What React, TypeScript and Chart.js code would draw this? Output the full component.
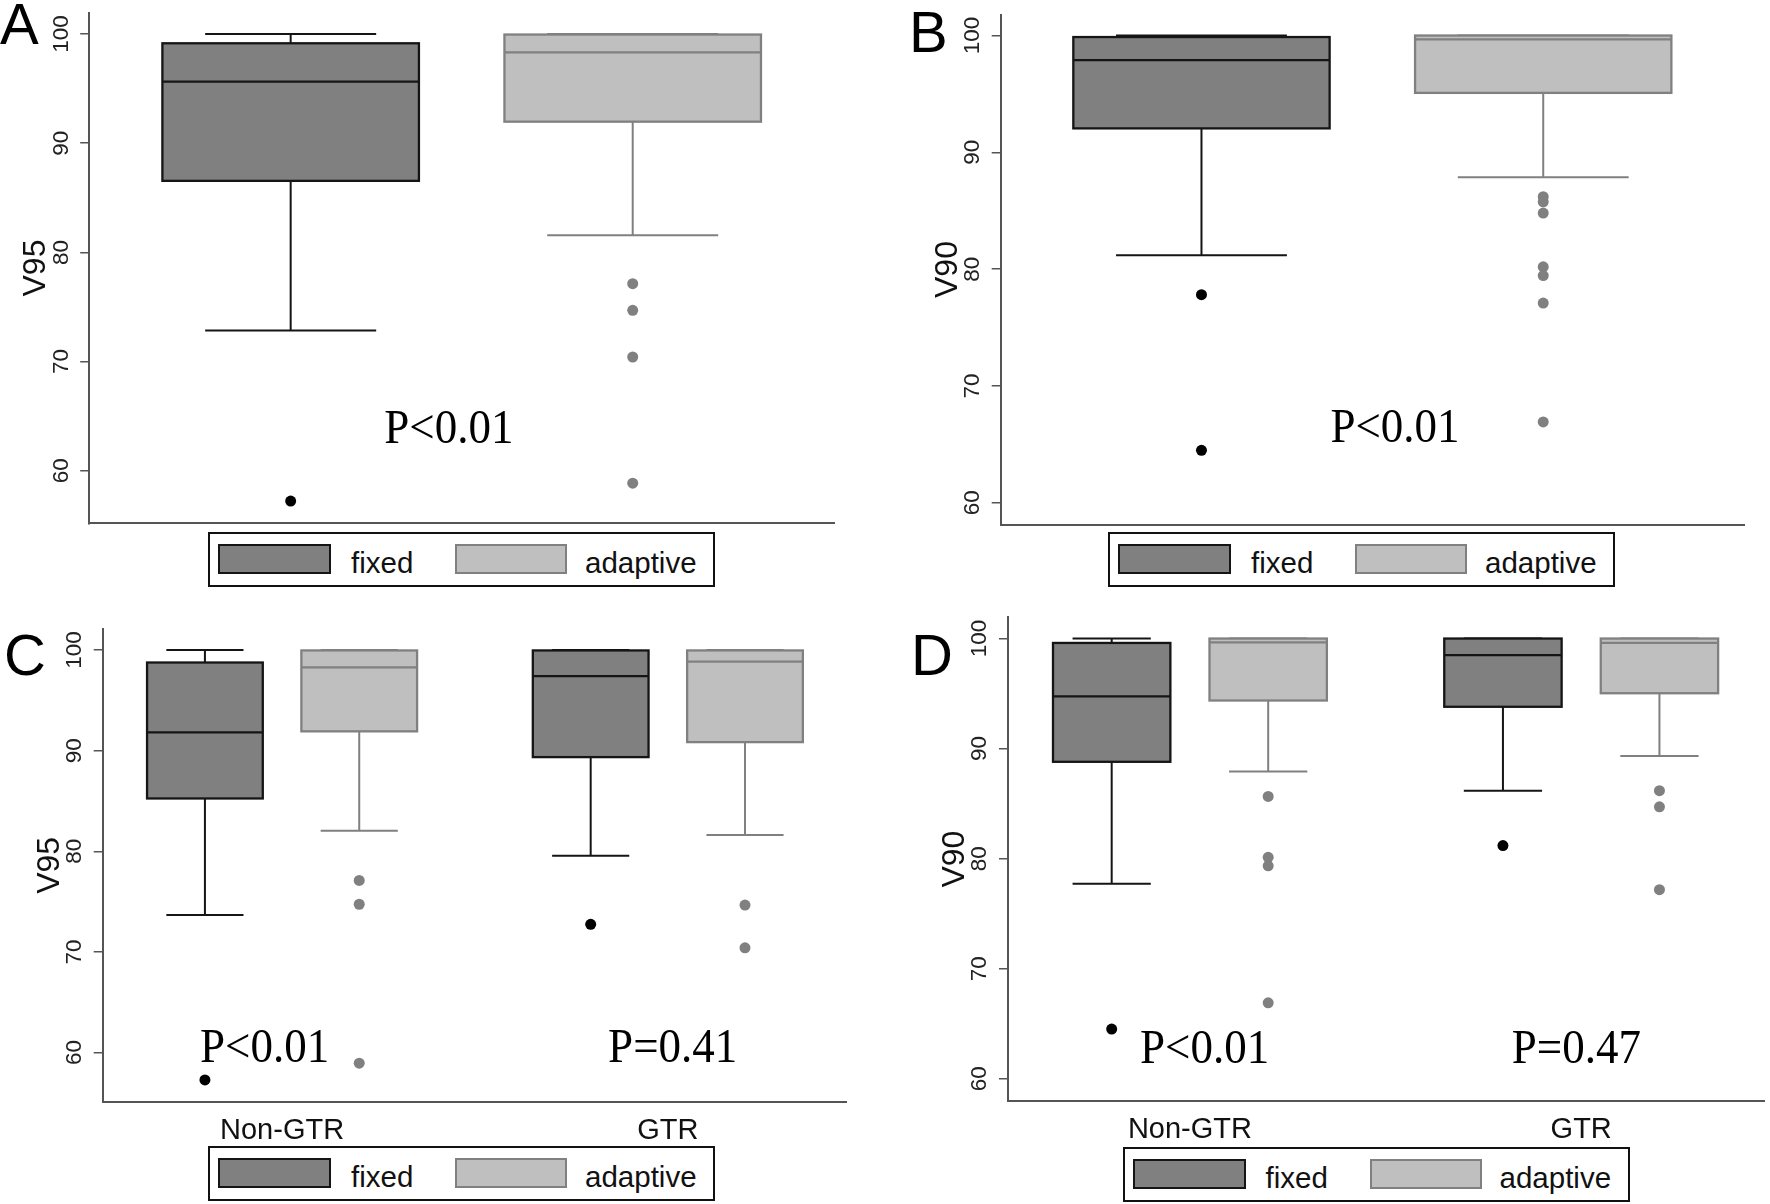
import React, { useEffect, useRef } from 'react';
import { Chart, registerables } from 'chart.js';

Chart.register(...registerables);

// ---------------- data ----------------
const GROUPS_ALL = ['All'];
const GROUPS_RESECTION = ['Non-GTR', 'GTR'];
const SERIES_NAMES = ['fixed', 'adaptive'];
const Y_TICKS = [60, 70, 80, 90, 100];

// box statistics per group: [lower whisker, Q1, median, Q3, upper whisker]
const A_FIXED = [[72.84, 86.55, 95.63, 99.15, 100]];
const A_ADAPTIVE = [[81.57, 91.97, 98.32, 99.95, 100]];
const A_FIXED_OUT = [[57.23]];
const A_ADAPTIVE_OUT = [[77.13, 74.69, 70.42, 58.86]];

const B_FIXED = [[81.18, 92.05, 97.9, 99.87, 100]];
const B_ADAPTIVE = [[87.86, 95.09, 99.67, 100, 100]];
const B_FIXED_OUT = [[77.81, 64.49]];
const B_ADAPTIVE_OUT = [[86.2, 85.76, 84.8, 80.2, 79.45, 77.1, 66.92]];

const C_FIXED = [[73.66, 85.25, 91.82, 98.76, 100], [79.56, 89.36, 97.4, 99.96, 100]];
const C_ADAPTIVE = [[82.05, 91.92, 98.28, 99.96, 100], [81.63, 90.85, 98.85, 99.96, 100]];
const C_FIXED_OUT = [[57.28], [72.75]];
const C_ADAPTIVE_OUT = [[77.11, 74.74, 58.95], [74.66, 70.41]];

const D_FIXED = [[77.71, 88.8, 94.75, 99.6, 100], [86.18, 93.8, 98.5, 100, 100]];
const D_ADAPTIVE = [[87.93, 94.37, 99.65, 100, 100], [89.33, 95.03, 99.6, 100, 100]];
const D_FIXED_OUT = [[64.52], [81.19]];
const D_ADAPTIVE_OUT = [[85.65, 80.12, 79.35, 66.9], [86.18, 84.71, 77.18]];

const P_A = ['P<0.01'];
const P_B = ['P<0.01'];
const P_C = ['P<0.01', 'P=0.41'];
const P_D = ['P<0.01', 'P=0.47'];

// ---------------- styling / layout ----------------
const SANS = '"Liberation Sans", Arial, sans-serif';
const SERIF = '"Liberation Serif", "Times New Roman", serif';
const AXIS_COLOR = '#555555';
const FIXED_FILL = '#808080';
const FIXED_LINE = '#151515';
const ADAPT_FILL = '#bfbfbf';
const ADAPT_LINE = '#808080';
const SERIES_OFFSET = 0.2; // box offset from group centre (x units)
const BOX_W = 0.3;
const CAP_W = 0.2;
const Y_AXIS_W = 89;

type Panel = {
  letter: string;
  title: string;
  groups: string[];
  fixed: number[][];
  adaptive: number[][];
  fixedOut: number[][];
  adaptiveOut: number[][];
  pTexts: string[];
  pPos: [number, number][];
  xRange: [number, number];
  yRange: [number, number];
  showX: boolean;
  canvas: { left: number; top: number; width: number; height: number };
  area: { left: number; top: number; right: number; bottom: number };
  legend: { left: number; top: number };
  letterPos: { left: number; capTop: number };
};

const PANELS: Panel[] = [
  {
    letter: 'A', title: 'V95', groups: GROUPS_ALL,
    fixed: A_FIXED, adaptive: A_ADAPTIVE, fixedOut: A_FIXED_OUT, adaptiveOut: A_ADAPTIVE_OUT,
    pTexts: P_A, pPos: [[-0.015, 62.52]],
    xRange: [-0.4356, 0.4354], yRange: [55.19, 101.95], showX: false,
    canvas: { left: 0, top: 0, width: 880, height: 530 },
    area: { left: 89.2, top: 12.7, right: 834, bottom: 523.3 },
    legend: { left: 208, top: 532 },
    letterPos: { left: 0, capTop: 3 },
  },
  {
    letter: 'B', title: 'V90', groups: GROUPS_ALL,
    fixed: B_FIXED, adaptive: B_ADAPTIVE, fixedOut: B_FIXED_OUT, adaptiveOut: B_ADAPTIVE_OUT,
    pTexts: P_B, pPos: [[0.0265, 65.21]],
    xRange: [-0.435, 0.435], yRange: [58.14, 101.8], showX: false,
    canvas: { left: 885, top: 0, width: 885, height: 530 },
    area: { left: 1000.7, top: 14.5, right: 1744, bottom: 525 },
    legend: { left: 1108, top: 532 },
    letterPos: { left: 909, capTop: 11 },
  },
  {
    letter: 'C', title: 'V95', groups: GROUPS_RESECTION,
    fixed: C_FIXED, adaptive: C_ADAPTIVE, fixedOut: C_FIXED_OUT, adaptiveOut: C_ADAPTIVE_OUT,
    pTexts: P_C, pPos: [[-0.0453, 59.1], [1.0126, 59.1]],
    xRange: [-0.465, 1.4634], yRange: [55.1, 102.1], showX: true,
    canvas: { left: 0, top: 600, width: 880, height: 550 },
    area: { left: 102.7, top: 628.9, right: 846.6, bottom: 1101.9 },
    legend: { left: 208, top: 1146 },
    letterPos: { left: 4, capTop: 634 },
  },
  {
    letter: 'D', title: 'V90', groups: GROUPS_RESECTION,
    fixed: D_FIXED, adaptive: D_ADAPTIVE, fixedOut: D_FIXED_OUT, adaptiveOut: D_ADAPTIVE_OUT,
    pTexts: P_D, pPos: [[0.0374, 61.42], [0.9875, 61.42]],
    xRange: [-0.465, 1.4685], yRange: [58.0, 101.93], showX: true,
    canvas: { left: 885, top: 600, width: 885, height: 550 },
    area: { left: 1008, top: 617.3, right: 1770, bottom: 1100.8 },
    legend: { left: 1122.5, top: 1147 },
    letterPos: { left: 911, capTop: 634 },
  },
];

const boxPlugin = {
  id: 'boxplots',
  beforeDatasetsDraw(chart: any, _args: any, opts: any) {
    const { ctx } = chart;
    const xs = chart.scales.x;
    const ys = chart.scales.y;
    for (const b of opts.boxes || []) {
      const cx = xs.getPixelForValue(b.x);
      const half = Math.abs(xs.getPixelForValue(b.x + BOX_W / 2) - cx);
      const capHalf = Math.abs(xs.getPixelForValue(b.x + CAP_W / 2) - cx);
      const [lo, q1, med, q3, hi] = b.stats.map((v: number) => ys.getPixelForValue(v));
      ctx.save();
      ctx.lineWidth = 2;
      ctx.strokeStyle = b.line;
      ctx.beginPath();
      ctx.moveTo(cx, q1); ctx.lineTo(cx, lo);
      ctx.moveTo(cx - capHalf, lo); ctx.lineTo(cx + capHalf, lo);
      ctx.moveTo(cx, q3); ctx.lineTo(cx, hi);
      ctx.moveTo(cx - capHalf, hi); ctx.lineTo(cx + capHalf, hi);
      ctx.stroke();
      ctx.fillStyle = b.fill;
      ctx.fillRect(cx - half, q3, 2 * half, q1 - q3);
      ctx.lineWidth = 2.3;
      ctx.strokeRect(cx - half, q3, 2 * half, q1 - q3);
      ctx.beginPath();
      ctx.moveTo(cx - half, med); ctx.lineTo(cx + half, med);
      ctx.stroke();
      ctx.restore();
    }
  },
  afterDatasetsDraw(chart: any, _args: any, opts: any) {
    const { ctx } = chart;
    const xs = chart.scales.x;
    const ys = chart.scales.y;
    for (const t of opts.texts || []) {
      ctx.save();
      ctx.translate(xs.getPixelForValue(t.x), ys.getPixelForValue(t.y));
      ctx.scale(1, 1.07);
      ctx.font = `45px ${SERIF}`;
      ctx.fillStyle = '#000';
      ctx.textAlign = 'center';
      ctx.textBaseline = 'alphabetic';
      ctx.fillText(t.text, 0, 0);
      ctx.restore();
    }
  },
};

function PanelChart({ p }: { p: Panel }) {
  const ref = useRef<HTMLCanvasElement | null>(null);
  useEffect(() => {
    if (!ref.current) return;
    const groups = p.groups;
    const offsets = [-SERIES_OFFSET, SERIES_OFFSET];
    const statsBySeries = [p.fixed, p.adaptive];
    const outBySeries = [p.fixedOut, p.adaptiveOut];
    const fills = [FIXED_FILL, ADAPT_FILL];
    const lines = [FIXED_LINE, ADAPT_LINE];
    const pointColors = ['#000000', '#808080'];

    const boxes: any[] = [];
    statsBySeries.forEach((arr, s) => {
      arr.forEach((stats, g) => {
        boxes.push({ x: g + offsets[s], stats, fill: fills[s], line: lines[s] });
      });
    });
    const datasets = SERIES_NAMES.map((name, s) => ({
      label: name,
      data: outBySeries[s].flatMap((vals, g) => vals.map((v) => ({ x: g + offsets[s], y: v }))),
      pointRadius: 5.5,
      pointHoverRadius: 5.5,
      pointBackgroundColor: pointColors[s],
      pointBorderColor: pointColors[s],
      pointBorderWidth: 0,
      showLine: false,
      clip: false as any,
    }));
    const texts = p.pTexts.map((text, i) => ({ text, x: p.pPos[i][0], y: p.pPos[i][1] }));

    const c = p.canvas;
    const a = p.area;
    const xH = p.showX ? 45 : 0;
    const padding = {
      left: a.left - c.left - Y_AXIS_W,
      top: a.top - c.top,
      right: c.left + c.width - a.right,
      bottom: c.top + c.height - a.bottom - xH,
    };

    const chart = new Chart(ref.current, {
      type: 'scatter',
      data: { datasets },
      plugins: [boxPlugin as any],
      options: {
        responsive: false,
        animation: false,
        events: [],
        devicePixelRatio: 1,
        layout: { padding },
        plugins: {
          legend: { display: false },
          tooltip: { enabled: false },
          boxplots: { boxes, texts },
        } as any,
        scales: {
          x: {
            type: 'linear',
            position: 'bottom',
            min: p.xRange[0],
            max: p.xRange[1],
            grid: { display: false, drawTicks: false, drawOnChartArea: false },
            border: { display: true, color: AXIS_COLOR, width: 2 },
            ticks: {
              display: p.showX,
              autoSkip: false,
              padding: 12,
              maxRotation: 0,
              minRotation: 0,
              color: '#111',
              font: { size: 29, family: SANS },
              callback: (_v: any, i: number) => groups[i],
            },
            afterBuildTicks: (s: any) => {
              s.ticks = groups.map((_g, i) => ({ value: i }));
            },
            afterFit: (s: any) => {
              s.height = xH;
              s.paddingLeft = 0;
              s.paddingRight = 0;
              s.paddingTop = 0;
              s.paddingBottom = 0;
            },
          } as any,
          y: {
            type: 'linear',
            min: p.yRange[0],
            max: p.yRange[1],
            grid: {
              display: true,
              drawOnChartArea: false,
              drawTicks: true,
              tickLength: 9,
              color: AXIS_COLOR,
              lineWidth: 1.5,
            },
            border: { display: true, color: AXIS_COLOR, width: 2 },
            ticks: {
              autoSkip: false,
              minRotation: 90,
              maxRotation: 90,
              crossAlign: 'center',
              padding: 0,
              color: '#222',
              font: { size: 22.5, family: SANS },
            },
            title: {
              display: true,
              text: p.title,
              color: '#111',
              font: { size: 32, family: SANS },
              padding: { top: 17, bottom: 0 },
            },
            afterBuildTicks: (s: any) => {
              s.ticks = Y_TICKS.map((v) => ({ value: v }));
            },
            afterFit: (s: any) => {
              s.width = Y_AXIS_W;
              s.paddingTop = 0;
              s.paddingBottom = 0;
              s.paddingLeft = 0;
              s.paddingRight = 0;
            },
          } as any,
        },
      },
    });
    return () => chart.destroy();
  }, [p]);

  return (
    <canvas
      ref={ref}
      width={p.canvas.width}
      height={p.canvas.height}
      style={{
        position: 'absolute',
        left: p.canvas.left,
        top: p.canvas.top,
        width: p.canvas.width,
        height: p.canvas.height,
      }}
    />
  );
}

function Legend({ left, top }: { left: number; top: number }) {
  const txt: React.CSSProperties = {
    position: 'absolute',
    top: 13.6,
    fontFamily: SANS,
    fontSize: 29.5,
    lineHeight: '29.5px',
    color: '#111',
    whiteSpace: 'nowrap',
  };
  return (
    <div
      style={{
        position: 'absolute',
        left,
        top,
        width: 507,
        height: 55,
        border: '2px solid #111',
        boxSizing: 'border-box',
        background: '#fff',
      }}
    >
      <div style={{ position: 'absolute', left: 8, top: 10, width: 113, height: 30, background: FIXED_FILL, border: `2.5px solid ${FIXED_LINE}`, boxSizing: 'border-box' }} />
      <span style={{ ...txt, left: 141 }}>{SERIES_NAMES[0]}</span>
      <div style={{ position: 'absolute', left: 245, top: 10, width: 112, height: 30, background: ADAPT_FILL, border: `2.5px solid ${ADAPT_LINE}`, boxSizing: 'border-box' }} />
      <span style={{ ...txt, left: 375 }}>{SERIES_NAMES[1]}</span>
    </div>
  );
}

export default function App() {
  return (
    <div
      style={{
        position: 'absolute',
        left: 0,
        top: 0,
        width: 1770,
        height: 1204,
        overflow: 'hidden',
        background: '#fff',
      }}
    >
      {PANELS.map((p) => (
        <PanelChart key={p.letter} p={p} />
      ))}
      {PANELS.map((p) => (
        <Legend key={'lg' + p.letter} left={p.legend.left} top={p.legend.top} />
      ))}
      {PANELS.map((p) => (
        <div
          key={'lt' + p.letter}
          style={{
            position: 'absolute',
            left: p.letterPos.left,
            top: p.letterPos.capTop - 7.6,
            fontFamily: SANS,
            fontSize: 58,
            lineHeight: '58px',
            color: '#000',
          }}
        >
          {p.letter}
        </div>
      ))}
    </div>
  );
}
